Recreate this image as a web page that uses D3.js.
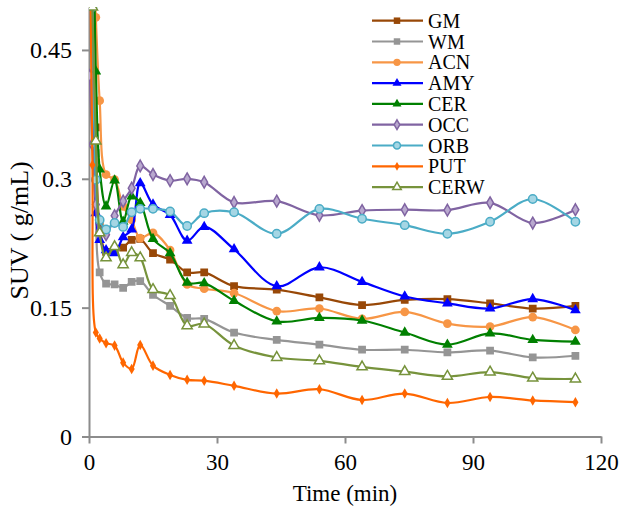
<!DOCTYPE html>
<html>
<head>
<meta charset="utf-8">
<script src="https://cdn.jsdelivr.net/npm/d3@7"></script>
<style>
  body { margin: 0; background: #fff; }
  text { font-family: "Liberation Serif", "Times New Roman", serif; fill: #000; }
</style>
</head>
<body>
<div id="chart"></div>
<script>
// frame mid-times (min)
let times = [0.2, 0.8, 1.6, 2.5, 4, 6, 8, 10, 12, 15, 19, 23, 27, 34, 44, 54, 64, 74, 84, 94, 104, 114];

// SUV values per region
let gm   = [0.62, 0.58, 0.36, 0.245, 0.215, 0.217, 0.220, 0.229, 0.230, 0.2135, 0.206, 0.191, 0.191, 0.175, 0.171, 0.162, 0.153, 0.159, 0.160, 0.155, 0.149, 0.152];
let wm   = [0.65, 0.55, 0.33, 0.191, 0.178, 0.177, 0.173, 0.180, 0.181, 0.165, 0.152, 0.138, 0.137, 0.121, 0.1125, 0.107, 0.101, 0.101, 0.098, 0.100, 0.092, 0.094];
let acn  = [0.55, 0.60, 0.488, 0.391, 0.305, 0.299, 0.268, 0.252, 0.231, 0.237, 0.217, 0.177, 0.172, 0.167, 0.146, 0.149, 0.137, 0.145, 0.1315, 0.128, 0.139, 0.124];
let amy  = [0.62, 0.55, 0.26, 0.229, 0.217, 0.2135, 0.232, 0.241, 0.295, 0.270, 0.258, 0.228, 0.244, 0.218, 0.175, 0.197, 0.180, 0.163, 0.155, 0.149, 0.160, 0.147];
let cer  = [0.62, 0.60, 0.425, 0.311, 0.268, 0.298, 0.250, 0.2795, 0.272, 0.230, 0.2135, 0.179, 0.1786, 0.158, 0.134, 0.138, 0.135, 0.121, 0.107, 0.120, 0.1125, 0.1105];
let occ  = [0.42, 0.34, 0.27, 0.238, 0.235, 0.257, 0.274, 0.289, 0.315, 0.305, 0.298, 0.300, 0.296, 0.2725, 0.274, 0.2575, 0.263, 0.264, 0.2635, 0.272, 0.2485, 0.264];
let orb  = [0.62, 0.50, 0.299, 0.252, 0.241, 0.2485, 0.244, 0.261, 0.265, 0.265, 0.262, 0.245, 0.260, 0.261, 0.236, 0.265, 0.2535, 0.246, 0.236, 0.250, 0.2765, 0.250];
let put  = [0.62, 0.316, 0.121, 0.114, 0.1086, 0.1058, 0.086, 0.0787, 0.1066, 0.0825, 0.0717, 0.066, 0.065, 0.059, 0.050, 0.055, 0.0425, 0.050, 0.039, 0.046, 0.042, 0.040];
let cerw = [0.62, 0.50, 0.344, 0.237, 0.208, 0.221, 0.200, 0.214, 0.208, 0.171, 0.164, 0.129, 0.131, 0.106, 0.092, 0.088, 0.081, 0.0755, 0.070, 0.075, 0.068, 0.067];

let regionNames = ['GM', 'WM', 'ACN', 'AMY', 'CER', 'OCC', 'ORB', 'PUT', 'CERW'];
let regionValues = [gm, wm, acn, amy, cer, occ, orb, put, cerw];

let xTicks = [0, 30, 60, 90, 120];
let yTicks = [0, 0.15, 0.3, 0.45];

// look of each series: colour, marker symbol, marker fill
let styles = {
    GM:   { color: '#984807', symbol: d3.symbolSquare,   size: 60, fill: '#984807' },
    WM:   { color: '#959595', symbol: d3.symbolSquare,   size: 60, fill: '#959595' },
    ACN:  { color: '#f79646', symbol: d3.symbolCircle,   size: 60, fill: '#f79646' },
    AMY:  { color: '#0000ff', symbol: d3.symbolTriangle, size: 50, fill: '#0000ff' },
    CER:  { color: '#008000', symbol: d3.symbolTriangle, size: 50, fill: '#008000' },
    OCC:  { color: '#8064a2', symbol: d3.symbolDiamond,  size: 40, fill: '#b9a9cf' },
    ORB:  { color: '#4bacc6', symbol: d3.symbolCircle,   size: 55, fill: '#a5d6e4' },
    PUT:  { color: '#ff6600', symbol: d3.symbolDiamond,  size: 32, fill: '#ff6600' },
    CERW: { color: '#77933c', symbol: d3.symbolTriangle, size: 45, fill: '#ffffff' }
};

let totalWidth = 626;
let totalHeight = 516;

let xScale = d3.scaleLinear().domain([0, 120]).range([89, 601]);
let yScale = d3.scaleLinear().domain([0, 0.5]).range([436.5, 7]);

let svg = d3.select('#chart')
    .append('svg')
    .attr('width', totalWidth)
    .attr('height', totalHeight);

// clip the plot area so the early spikes get cut at the top
svg.append('clipPath')
    .attr('id', 'plotClip')
    .append('rect')
    .attr('x', xScale(0))
    .attr('y', yScale(0.5))
    .attr('width', xScale(120) - xScale(0) + 10)
    .attr('height', yScale(0) - yScale(0.5));

let axisColor = '#8c8c8c';
let serif = '"Liberation Serif", "Times New Roman", serif';

let xAxis = svg.append('g')
    .attr('transform', `translate(0, ${yScale(0)})`)
    .call(d3.axisBottom(xScale).tickValues(xTicks).tickSize(7).tickSizeOuter(0).tickPadding(10));

let yAxis = svg.append('g')
    .attr('transform', `translate(${xScale(0)}, 0)`)
    .call(d3.axisLeft(yScale).tickValues(yTicks).tickSize(7).tickSizeOuter(0).tickPadding(10)
        .tickFormat(d => String(d)));

[xAxis, yAxis].forEach(function(ax){
    ax.select('.domain').attr('stroke', axisColor).attr('stroke-width', 2);
    ax.selectAll('.tick line').attr('stroke', axisColor).attr('stroke-width', 2);
    ax.selectAll('.tick text')
        .style('font-family', serif)
        .attr('fill', '#000');
});
xAxis.selectAll('.tick text').style('font-size', '23px');
yAxis.selectAll('.tick text').style('font-size', '24px');

// axis titles
svg.append('text')
    .attr('x', xScale(60))
    .attr('y', 501)
    .attr('text-anchor', 'middle')
    .style('font-size', '23px')
    .text('Time (min)');

svg.append('text')
    .attr('transform', `translate(28, ${yScale(0.24)}) rotate(-90)`)
    .attr('text-anchor', 'middle')
    .style('font-size', '26px')
    .text('SUV ( g/mL)');

let line = d3.line()
    .x(d => xScale(d.t))
    .y(d => yScale(d.v))
    .curve(d3.curveCatmullRom.alpha(0.5));

let plot = svg.append('g').attr('clip-path', 'url(#plotClip)');

for (let i=0; i<regionNames.length; i++){
    let name = regionNames[i];
    let st = styles[name];
    let points = times.map((t, j) => ({ t: t, v: regionValues[i][j] }));

    plot.append('path')
        .datum(points)
        .attr('fill', 'none')
        .attr('stroke', st.color)
        .attr('stroke-width', 2.2)
        .attr('d', line);

    plot.selectAll(null)
        .data(points)
        .enter()
        .append('path')
        .attr('transform', d => `translate(${xScale(d.t)}, ${yScale(d.v)})`)
        .attr('d', d3.symbol().type(st.symbol).size(st.size))
        .attr('fill', st.fill)
        .attr('stroke', st.color)
        .attr('stroke-width', st.fill === st.color ? 0 : 1.5);
}

// legend
let legend = svg.selectAll('.legend')
    .data(regionNames)
    .enter()
    .append('g')
    .attr('class', 'legend')
    .attr('transform', (d, i) => `translate(0, ${20.7 + i * 20.8})`);

legend.append('line')
    .attr('x1', 372)
    .attr('x2', 423)
    .attr('stroke', d => styles[d].color)
    .attr('stroke-width', 2.2);

legend.append('path')
    .attr('transform', 'translate(397, 0)')
    .attr('d', d => d3.symbol().type(styles[d].symbol).size(styles[d].size * 0.7)())
    .attr('fill', d => styles[d].fill)
    .attr('stroke', d => styles[d].color)
    .attr('stroke-width', d => styles[d].fill === styles[d].color ? 0 : 1.5);

legend.append('text')
    .attr('x', 428)
    .attr('y', 0)
    .attr('dy', '0.35em')
    .style('font-size', '20px')
    .text(d => d);
</script>
</body>
</html>
